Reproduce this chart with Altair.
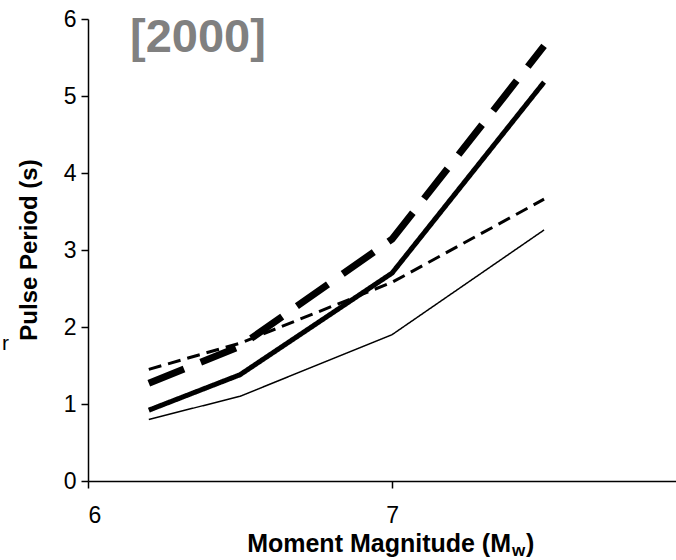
import altair as alt
import pandas as pd

# Moment magnitudes at which each relation is evaluated
mw = [6.2, 6.5, 7.0, 7.5]

# Pulse period (s) for each relation
thin_solid = [0.80, 1.10, 1.90, 3.26]
thin_dashed = [1.45, 1.79, 2.58, 3.66]
bold_solid = [0.92, 1.38, 2.70, 5.18]
bold_dashed = [1.27, 1.75, 3.14, 5.65]

W, H = 588, 462
FONT = "Liberation Sans"

x_scale = alt.Scale(domain=[6, 7.934], nice=False, zero=False)
y_scale = alt.Scale(domain=[0, 6], nice=False)

x_axis = alt.Axis(values=[6, 7], title=None, format="d", labelPadding=16)
y_axis = alt.Axis(values=[0, 1, 2, 3, 4, 5, 6], title=None, format="d", labelPadding=5)


def series_line(values, width, dash):
    frame = pd.DataFrame({"mw": mw, "period": values})
    return alt.Chart(frame).mark_line(
        color="#000", strokeWidth=width, strokeDash=dash,
        strokeCap="butt", strokeJoin="miter", clip=False
    ).encode(
        x=alt.X("mw:Q", scale=x_scale, axis=x_axis),
        y=alt.Y("period:Q", scale=y_scale, axis=y_axis),
    )


line_thin_solid = series_line(thin_solid, 1.5, [1, 0])
line_thin_dashed = series_line(thin_dashed, 3, [13, 7])
line_bold_solid = series_line(bold_solid, 5, [1, 0])
line_bold_dashed = series_line(bold_dashed, 7, [38, 18])

year_label = alt.Chart(pd.DataFrame({"t": ["[2000]"]})).mark_text(
    align="left", baseline="alphabetic", font=FONT, fontSize=47, fontWeight="bold",
    color="#808080"
).encode(x=alt.value(42), y=alt.value(33), text="t:N")

y_title = alt.Chart(pd.DataFrame({"t": ["Pulse Period (s)"]})).mark_text(
    align="center", baseline="middle", angle=270, font=FONT, fontSize=24,
    fontWeight="bold", color="#000"
).encode(x=alt.value(-58), y=alt.value(231), text="t:N")

side_fragment = alt.Chart(pd.DataFrame({"t": ["r"]})).mark_text(
    align="left", baseline="middle", font=FONT, fontSize=21, color="#000"
).encode(x=alt.value(-86), y=alt.value(325), text="t:N")

# x-axis title with subscript w
x_title_main = alt.Chart(pd.DataFrame({"t": ["Moment Magnitude (M"]})).mark_text(
    align="right", baseline="alphabetic", font=FONT, fontSize=25, fontWeight="bold",
    color="#000"
).encode(x=alt.value(423), y=alt.value(533), text="t:N")
x_title_sub = alt.Chart(pd.DataFrame({"t": ["w"]})).mark_text(
    align="left", baseline="alphabetic", font=FONT, fontSize=17, fontWeight="bold",
    color="#000"
).encode(x=alt.value(424), y=alt.value(537), text="t:N")
x_title_close = alt.Chart(pd.DataFrame({"t": [")"]})).mark_text(
    align="left", baseline="alphabetic", font=FONT, fontSize=25, fontWeight="bold",
    color="#000"
).encode(x=alt.value(438), y=alt.value(533), text="t:N")

chart = alt.layer(
    line_thin_solid, line_thin_dashed, line_bold_solid, line_bold_dashed,
    year_label, y_title, side_fragment, x_title_main, x_title_sub, x_title_close
).properties(
    width=W, height=H,
    autosize=alt.AutoSizeParams(type="none"),
    padding={"left": 88, "top": 19, "right": 0, "bottom": 79},
).configure_view(stroke=None).configure_axis(
    grid=False, domainColor="#000", domainWidth=1.5, tickColor="#000", tickWidth=1.5,
    tickSize=7, labelFontSize=23, labelColor="#000", labelFont=FONT
)

chart.save("out.html", embed_options={"renderer": "svg", "actions": False})
